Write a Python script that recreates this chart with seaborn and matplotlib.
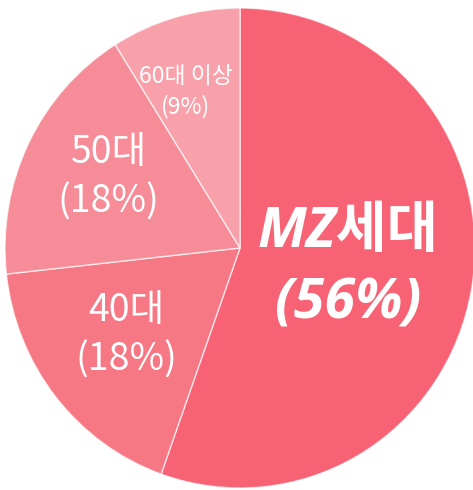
import matplotlib
matplotlib.use("Agg")
import matplotlib.pyplot as plt
import seaborn as sns

# data
groups = ['MZ세대', '40대', '50대', '60대 이상']
shares = [56, 18, 18, 9]
pie_colors = ['#F76374', '#F67884', '#F68C97', '#F8A1AB']

sns.set_style("white")
plt.rcParams['font.family'] = ['Noto Sans CJK KR', 'DejaVu Sans']

W, H = 473, 490
fig = plt.figure(figsize=(W / 100, H / 100), dpi=100)
# pie is slightly taller than wide in the reference
ax = fig.add_axes([5 / W, 2 / H, 470 / W, 480 / H])

ax.pie(shares, colors=pie_colors, startangle=90, counterclock=False,
       normalize=True,
       wedgeprops=dict(edgecolor=(1, 1, 1, 0.7), linewidth=1.0))
ax.set_aspect('auto')
ax.set_xlim(-1, 1)
ax.set_ylim(-1, 1)
ax.axis('off')

big = ['Open Sans', 'Noto Sans CJK KR', 'DejaVu Sans']
ax.text(0.46, -0.085, f'{groups[0]}\n({shares[0]}%)', color='white',
        fontsize=40, fontweight='bold', fontstyle='italic', family=big,
        ha='center', va='center', linespacing=1.4)
ax.text(-0.485, -0.365, f'{groups[1]}\n({shares[1]}%)', color='white',
        fontsize=27, ha='center', va='center', linespacing=1.35)
ax.text(-0.56, 0.295, f'{groups[2]}\n({shares[2]}%)', color='white',
        fontsize=27, ha='center', va='center', linespacing=1.35)
ax.text(-0.23, 0.65, f'{groups[3]}\n({shares[3]}%)', color='white',
        fontsize=16.5, ha='center', va='center', linespacing=1.35)

plt.savefig('out.png', dpi=100)
